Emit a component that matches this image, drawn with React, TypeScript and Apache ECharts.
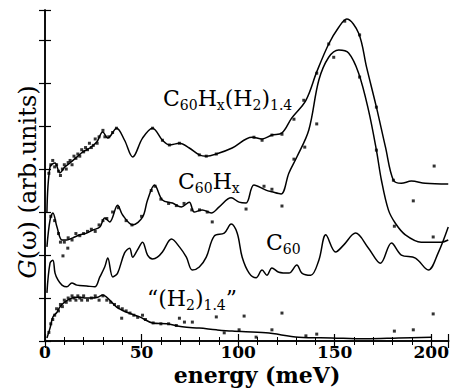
import React, { useEffect, useRef } from "react";
import * as echarts from "echarts";

// x-axis tick labels (meV)
const xTickLabels = [0, 50, 100, 150, 200];

// C60Hx(H2)1.4 — smooth line
const c1E = [1.0, 2.6, 5.2, 7.7, 10.3, 12.9, 16.5, 19.6, 23.2, 26.8, 29.9, 32.5, 37.1, 41.2, 45.4, 50.5, 55.7, 60.8, 64.4, 69.6, 74.7, 79.9, 83.5, 88.7, 96.9, 107.2, 112.4, 117.5, 122.7, 127.8, 135.1, 140.7, 146.9, 152.1, 156.2, 162.4, 166.5, 171.6, 176.3, 180.4, 184.5, 189.7, 196.9, 208.8];
const c1V = [3.0, 4.05, 4.14, 3.91, 4.05, 4.14, 4.28, 4.40, 4.49, 4.63, 4.86, 4.72, 4.95, 4.67, 4.28, 4.72, 4.95, 4.67, 4.56, 4.60, 4.49, 4.33, 4.30, 4.35, 4.49, 4.74, 4.70, 4.79, 4.84, 5.19, 5.60, 6.26, 6.91, 7.30, 7.49, 7.16, 6.37, 5.44, 4.51, 3.74, 3.67, 3.72, 3.67, 3.65];
// C60Hx(H2)1.4 — measured points
const c1DotE = [2, 3, 4, 5, 6, 7, 8, 9, 10, 11, 12, 13, 14, 15, 16, 17, 18, 19, 20, 21, 22, 23, 24, 25, 26, 27, 28, 30, 31, 33, 35, 37, 55.7, 60.8, 64.4, 69.6, 79.9, 83.5, 88.7, 108.2, 112.4, 117.5, 122.7, 128.9, 134.0, 140.7, 146.9, 155.2, 162.9, 171.6, 180.4, 201.5];
const c1DotV = [3.9, 4.1, 4.2, 4.05, 4.1, 3.95, 3.85, 4.0, 4.1, 4.0, 4.15, 4.2, 4.1, 4.3, 4.25, 4.35, 4.3, 4.45, 4.4, 4.5, 4.45, 4.6, 4.5, 4.55, 4.7, 4.6, 4.75, 4.9, 4.75, 4.75, 4.85, 4.95, 4.95, 4.67, 4.56, 4.60, 4.33, 4.30, 4.35, 4.74, 4.67, 4.79, 4.81, 5.16, 5.60, 6.23, 6.91, 7.44, 7.12, 5.44, 3.74, 4.07];

// C60Hx
const c2E = [1.0, 2.6, 4.1, 6.2, 8.8, 11.3, 14.4, 18.0, 21.6, 24.7, 28.4, 30.9, 33.5, 37.6, 40.2, 45.4, 50.5, 53.1, 56.7, 60.8, 66.0, 70.6, 74.7, 77.3, 81.4, 86.1, 90.2, 96.4, 100.5, 104.1, 108.2, 114.4, 117.5, 122.2, 126.3, 130.4, 136.6, 141.8, 146.9, 152.1, 157.2, 162.4, 167.5, 171.6, 174.2, 177.8, 181.4, 186.6, 194.8, 205.2, 208.8];
const c2V = [2.19, 2.81, 2.98, 2.65, 2.35, 2.35, 2.40, 2.47, 2.51, 2.58, 2.65, 2.86, 2.77, 3.16, 2.93, 2.70, 2.88, 3.28, 3.63, 3.28, 3.21, 3.12, 3.23, 3.00, 3.05, 2.98, 3.12, 3.33, 3.23, 3.21, 3.63, 3.51, 3.47, 3.42, 3.91, 4.28, 4.91, 6.07, 6.60, 6.77, 6.70, 6.23, 5.37, 4.44, 3.74, 3.05, 2.74, 2.47, 2.30, 2.30, 2.35];
const c2DotE = [3, 5, 7, 8, 10, 12, 14, 16, 18, 20, 22, 24, 26, 28, 30, 32, 35, 38, 42, 45, 50, 55, 57, 60, 64, 68, 72, 76, 80, 84, 9.3, 11.8, 86.6, 104.1, 113.4, 117.5, 122.7, 128.9, 134.5, 140.7, 149.5, 162.9, 171.6, 180.9, 190.7, 201.0];
const c2DotV = [2.9, 2.8, 2.5, 2.3, 2.3, 2.4, 2.35, 2.5, 2.45, 2.5, 2.55, 2.6, 2.55, 2.7, 2.8, 2.85, 3.0, 3.1, 2.8, 2.7, 2.9, 3.5, 3.6, 3.3, 3.2, 3.15, 3.2, 3.05, 3.05, 3.0, 1.98, 2.16, 2.77, 3.07, 3.60, 3.53, 3.14, 4.23, 4.51, 5.05, 6.60, 6.14, 4.44, 2.67, 3.26, 2.42];

// C60
const c3E = [1.0, 2.6, 4.1, 5.2, 6.7, 8.8, 11.3, 13.9, 16.5, 21.6, 25.8, 28.4, 30.9, 32.5, 35.1, 37.6, 41.2, 43.8, 45.4, 47.9, 50.5, 53.1, 55.7, 58.2, 60.8, 65.5, 69.6, 73.2, 76.3, 79.9, 83.5, 87.6, 92.8, 96.4, 99.5, 102.1, 105.7, 109.3, 112.4, 114.9, 117.5, 121.1, 126.3, 130.4, 133.0, 137.6, 141.8, 145.4, 150.5, 154.6, 160.8, 167.5, 173.7, 179.4, 184.5, 191.8, 198.5, 203.6, 208.8];
const c3V = [1.12, 1.81, 1.88, 1.58, 1.42, 1.30, 1.26, 1.35, 1.30, 1.28, 1.26, 1.49, 1.72, 1.93, 1.49, 1.58, 2.05, 2.16, 1.95, 2.12, 2.30, 2.00, 1.91, 1.95, 2.07, 2.37, 2.19, 1.95, 1.65, 1.72, 1.95, 2.44, 2.51, 2.72, 2.51, 1.95, 1.58, 1.47, 1.65, 1.53, 1.70, 1.60, 1.58, 1.77, 1.58, 1.53, 1.88, 2.47, 2.07, 2.23, 2.51, 2.16, 1.81, 2.28, 2.00, 1.93, 1.65, 2.05, 2.65];

// "(H2)1.4"
const c4E = [1.0, 2.6, 4.1, 6.2, 7.7, 10.3, 13.9, 17.0, 20.6, 24.2, 27.3, 29.9, 33.5, 37.1, 42.3, 49.0, 55.7, 62.9, 71.1, 79.9, 88.7, 96.9, 114.4, 131.4, 148.5, 166.0, 183.0, 200.0];
const c4V = [0.07, 0.30, 0.56, 0.67, 0.79, 0.91, 1.00, 1.02, 1.00, 1.00, 1.02, 1.07, 0.95, 0.79, 0.67, 0.56, 0.42, 0.40, 0.33, 0.30, 0.26, 0.23, 0.19, 0.09, 0.07, 0.05, 0.07, 0.09];
const c4DotE = [2, 3, 4, 5, 6, 7, 8, 9, 10, 11, 12, 13, 14, 15, 16, 17, 18, 19, 20, 22, 24, 26, 28, 30, 32, 34, 36, 38, 40, 42, 44, 46, 48, 52, 56, 60, 64, 68, 39.7, 50.5, 69.6, 72.2, 76.3, 88.7, 92.8, 100.5, 103.1, 109.3, 117.5, 122.7, 135.1, 140.7, 180.9, 190.7, 201.0];
const c4DotV = [0.2, 0.4, 0.5, 0.6, 0.75, 0.7, 0.85, 0.8, 0.95, 0.9, 1.0, 0.95, 1.05, 1.0, 0.95, 1.05, 1.0, 0.95, 1.05, 0.95, 1.0, 1.05, 0.95, 1.05, 0.95, 0.9, 0.85, 0.8, 0.75, 0.7, 0.65, 0.6, 0.55, 0.5, 0.42, 0.4, 0.4, 0.36, 0.53, 0.60, 0.53, 0.44, 0.44, 0.56, 0.19, 0.26, 0.58, 0.09, 0.26, 0.65, 0.12, 0.16, 0.23, 0.26, 0.63];

const zip = (a: number[], b: number[]) => a.map((x, i) => [x, b[i]]);

const SERIF = "DejaVu Serif";

const lineSeries = (e: number[], v: number[]) => ({
  type: "line",
  data: zip(e, v),
  smooth: 0.35,
  showSymbol: false,
  symbol: "none",
  lineStyle: { color: "#000", width: 1.5 },
  z: 3,
});

const dotSeries = (e: number[], v: number[]) => ({
  type: "scatter",
  data: zip(e, v),
  symbol: "rect",
  symbolSize: 3,
  itemStyle: { color: "#000" },
  z: 4,
});

const sub = { fontSize: 14, lineHeight: 18, verticalAlign: "bottom", fontFamily: SERIF, fill: "#000" };
const main = { fontSize: 22, lineHeight: 28, verticalAlign: "middle", fontFamily: SERIF, fill: "#000" };

export default function App() {
  const ref = useRef<HTMLDivElement>(null);
  useEffect(() => {
    document.body.style.margin = "0";
    const chart = echarts.init(ref.current!, null, { renderer: "svg" });
    const axisLine = { show: true, lineStyle: { color: "#000", width: 1.5 } };
    const xCommon = {
      type: "value",
      min: 0,
      max: 209,
      interval: 50,
      axisLine,
      axisTick: { show: true, inside: true, length: 7, lineStyle: { color: "#000", width: 1.2 } },
      minorTick: { show: true, splitNumber: 5, length: 4, lineStyle: { color: "#000", width: 1 } },
      splitLine: { show: false },
    };
    const yCommon = {
      type: "value",
      min: 0,
      max: 7.7,
      interval: 1,
      axisLine,
      axisTick: { show: true, inside: true, length: 6, lineStyle: { color: "#000", width: 1.2 } },
      axisLabel: { show: false },
      splitLine: { show: false },
    };
    chart.setOption({
      animation: false,
      grid: { left: 45, right: 2, top: 10, bottom: 48, containLabel: false },
      xAxis: [
        {
          ...xCommon,
          position: "bottom",
          axisLabel: {
            show: true,
            showMaxLabel: false,
            margin: 2,
            color: "#000",
            fontFamily: SERIF,
            fontWeight: "bold",
            fontSize: 17,
            lineHeight: 17,
            formatter: (val: number) => (xTickLabels.includes(val) ? String(val) : ""),
          },
        },
        { ...xCommon, position: "top", axisLabel: { show: false } },
      ],
      yAxis: [
        { ...yCommon, position: "left" },
        { ...yCommon, position: "right" },
      ],
      series: [
        lineSeries(c1E, c1V),
        dotSeries(c1DotE, c1DotV),
        lineSeries(c2E, c2V),
        dotSeries(c2DotE, c2DotV),
        lineSeries(c3E, c3V),
        lineSeries(c4E, c4V),
        dotSeries(c4DotE, c4DotV),
      ],
      graphic: [
        {
          type: "text",
          left: 163,
          top: 87,
          style: {
            text: "{a|C}{s|60}{a|H}{s|x}{a|(H}{s|2}{a|)}{s|1.4}",
            rich: { a: main, s: sub },
          },
        },
        {
          type: "text",
          left: 178,
          top: 170,
          style: { text: "{a|C}{s|60}{a|H}{s|x}", rich: { a: main, s: sub } },
        },
        {
          type: "text",
          left: 266,
          top: 231,
          style: { text: "{a|C}{s|60}", rich: { a: main, s: sub } },
        },
        {
          type: "text",
          left: 147,
          top: 287,
          style: {
            text: "{a|\u201C(H}{s|2}{a|)}{s|1.4}{a|\u201D}",
            rich: { a: main, s: sub },
          },
        },
        {
          type: "text",
          x: 257,
          y: 375,
          style: {
            text: "energy (meV)",
            fontFamily: SERIF,
            fontWeight: "bold",
            fontSize: 22,
            lineHeight: 22,
            fill: "#000",
            align: "center",
            verticalAlign: "middle",
          },
        },
        {
          type: "text",
          x: 28,
          y: 182,
          rotation: Math.PI / 2,
          style: {
            text: "{i|G}{n|(\u03C9) (arb.units)}",
            rich: {
              i: { fontFamily: SERIF, fontStyle: "italic", fontSize: 24, fill: "#000" },
              n: { fontFamily: SERIF, fontSize: 24, fill: "#000" },
            },
            align: "center",
            verticalAlign: "middle",
          },
        },
      ],
    });
    return () => chart.dispose();
  }, []);
  return <div ref={ref} style={{ width: 452, height: 389 }} />;
}
